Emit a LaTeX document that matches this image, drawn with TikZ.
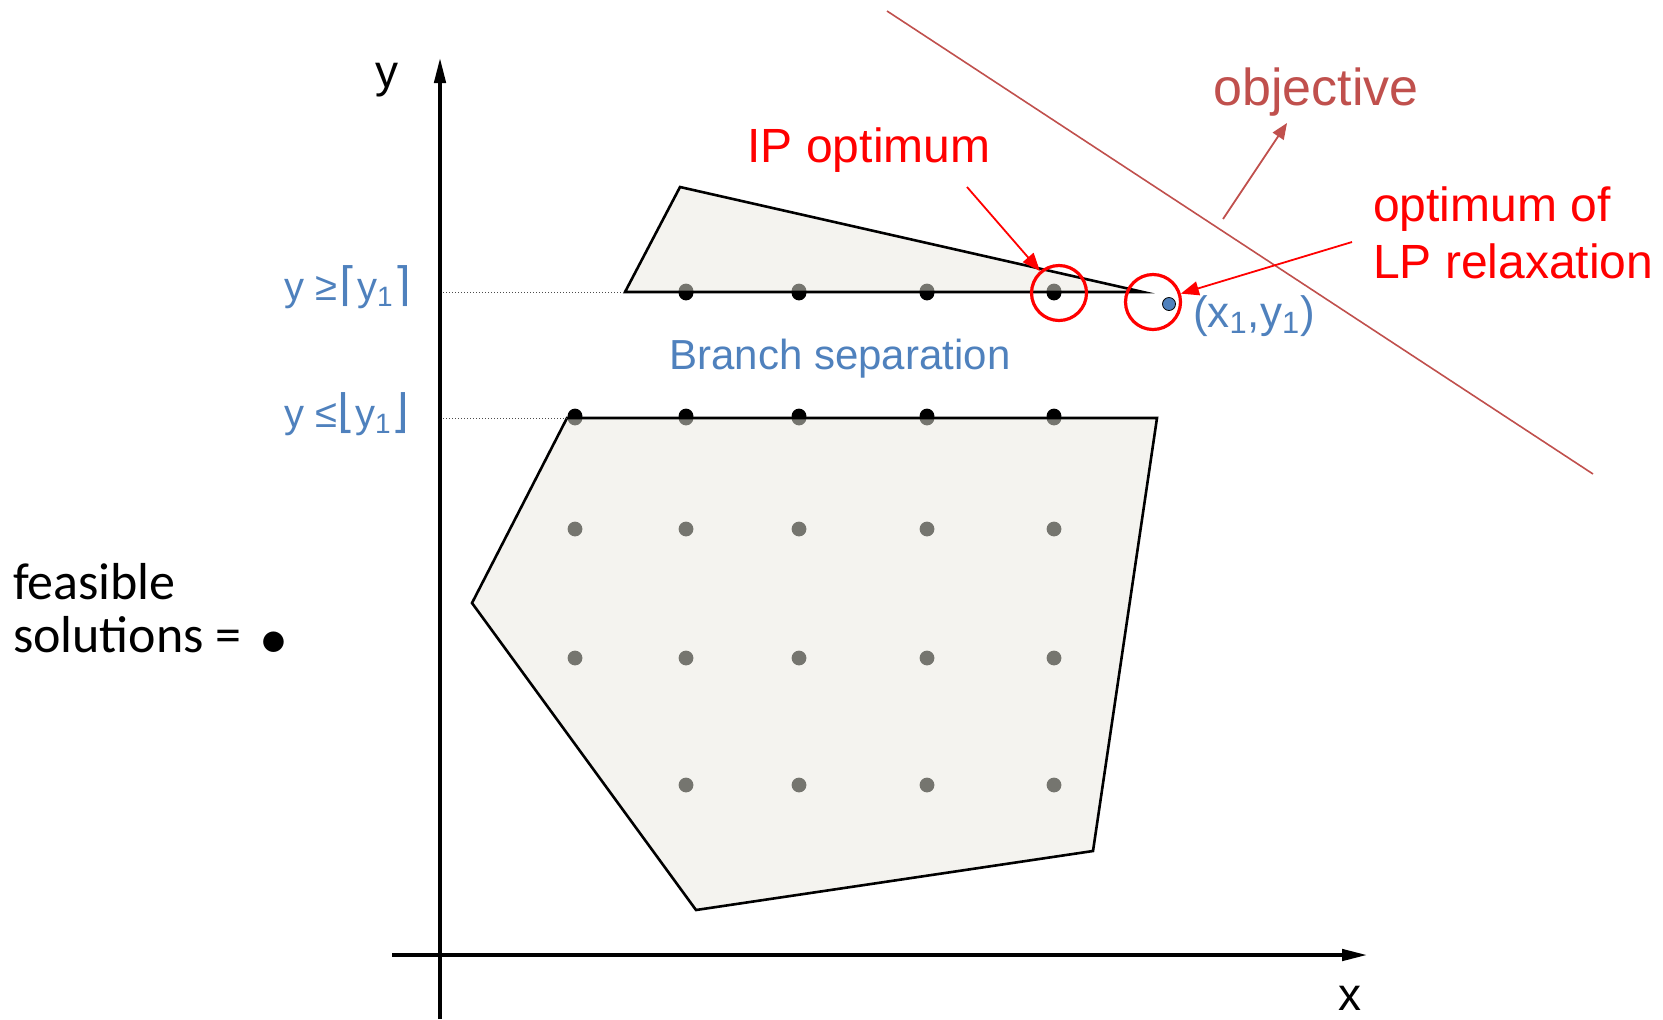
\documentclass[tikz,border=0pt]{standalone}
\usepackage{fontspec}
\setmainfont{Liberation Sans}
\newfontfamily\calibfont{Carlito}
\newfontfamily\djvfont{DejaVu Sans}
\usetikzlibrary{arrows.meta}
\definecolor{ofblue}{HTML}{4F81BD}
\definecolor{objred}{HTML}{C0504D}
\definecolor{polyfill}{HTML}{F4F3EF}
\definecolor{dotgray}{HTML}{75756F}
\tikzset{
  axisline/.style={line width=2.2pt,-{Triangle[length=13pt,width=5.5pt]}},
  polyline/.style={line width=1.3pt,line join=miter},
  guide/.style={densely dotted,line width=0.5pt,black!70},
  gdot/.style={circle,fill=dotgray,inner sep=0pt,minimum size=7.4pt},
  bdot/.style={circle,fill=black,inner sep=0pt,minimum size=7.4pt},
  redring/.style={circle,draw=red,line width=1.6pt,inner sep=0pt,minimum size=27.5pt},
  redarrow/.style={draw=red,line width=0.9pt,-{Triangle[length=9pt,width=7pt]}},
  objarrow/.style={draw=objred,line width=0.9pt,-{Triangle[length=8pt,width=6.5pt]}},
  lbl/.style={inner sep=0pt,outer sep=0pt},
}
\newcommand{\brk}[1]{{\djvfont\fontsize{23}{24}\selectfont #1}}
\begin{document}
\begin{tikzpicture}[x=0.5pt,y=-0.5pt]
\useasboundingbox (0,0) rectangle (1663,1019);

% objective line
\coordinate (o1) at (887,11);
\coordinate (o2) at (1593,474);
\draw[objred,line width=0.8pt] (o1) -- (o2);

% black dots on boundary rows (behind polygons)
\foreach \x/\n in {686/a,799/b,927/c,1054/d}
  \node[bdot] (tb\n) at (\x,293) {};
\foreach \x/\n in {575/a,686/b,799/c,927/d,1054/e}
  \node[bdot] (lb\n) at (\x,416) {};

% upper triangle
\coordinate (t1) at (680,187);
\coordinate (t2) at (625,292);
\coordinate (t3) at (1143,292);
\fill[polyfill] (t1) -- (t2) -- (t3) -- cycle;
% lower polygon
\coordinate (p1) at (567,418);
\coordinate (p2) at (1157,418);
\coordinate (p3) at (1093,851);
\coordinate (p4) at (696,910);
\coordinate (p5) at (472,603);
\fill[polyfill] (p1) -- (p2) -- (p3) -- (p4) -- (p5) -- cycle;

% gray halves of boundary dots
\begin{scope}
  \clip (t1) -- (t2) -- (t3) -- cycle;
  \foreach \x/\n in {686/a,799/b,927/c,1054/d}
    \node[gdot] (tg\n) at (\x,291) {};
\end{scope}
\begin{scope}
  \clip (p1) -- (p2) -- (p3) -- (p4) -- (p5) -- cycle;
  \foreach \x/\n in {575/a,686/b,799/c,927/d,1054/e}
    \node[gdot] (lg\n) at (\x,418) {};
\end{scope}

% interior gray dots
\foreach \x/\n in {575/a,686/b,799/c,927/d,1054/e} {
  \node[gdot] (r1\n) at (\x,529) {};
  \node[gdot] (r2\n) at (\x,658) {};
}
\foreach \x/\n in {686/b,799/c,927/d,1054/e}
  \node[gdot] (r3\n) at (\x,785) {};

% outlines
\draw[polyline] (t1) -- (t2) -- (t3) -- cycle;
\draw[polyline] (p1) -- (p2) -- (p3) -- (p4) -- (p5) -- cycle;

% guides
\coordinate (g1) at (443,292);
\coordinate (g2) at (443,418);
\draw[guide] (g1) -- (t2);
\draw[guide] (g2) -- (p1);

% axes
\coordinate (ybot) at (440,1019);
\coordinate (ytop) at (440,57);
\coordinate (xleft) at (392,955);
\coordinate (xright) at (1368,955);
\draw[axisline] (ybot) -- (ytop);
\draw[axisline] (xleft) -- (xright);
\node[lbl,anchor=base,font=\fontsize{23}{27}\selectfont] (ylab) at (387,87) {y};
\node[lbl,anchor=base,font=\fontsize{23}{27}\selectfont] (xlab) at (1350,1010) {x};

% branch labels
\node[lbl,anchor=base west,text=ofblue,font=\fontsize{20}{24}\selectfont] (geq) at (284,300)
  {y ≥\hspace{0.05em}\brk{⌈}y\textsubscript{1}\brk{⌉}};
\node[lbl,anchor=base west,text=ofblue,font=\fontsize{20}{24}\selectfont] (leq) at (284,427)
  {y ≤\brk{⌊}y\textsubscript{1}\brk{⌋}};
\node[lbl,anchor=base,text=ofblue,font=\fontsize{21}{25}\selectfont] (branch) at (840,369)
  {Branch separation};

% optimum markers
\node[redring] (ipc) at (1059,293) {};
\node[redring] (lpc) at (1153,302) {};
\node[circle,fill=ofblue,draw=black,line width=0.4pt,inner sep=0pt,minimum size=6.5pt] (lpdot) at (1169,304) {};
\node[lbl,anchor=base west,text=ofblue,font=\fontsize{22}{26}\selectfont] (xy) at (1193,327)
  {(x\textsubscript{1},y\textsubscript{1})};

% IP optimum
\node[lbl,anchor=base,text=red,font=\fontsize{24}{28}\selectfont] (iplab) at (869,162) {IP optimum};
\coordinate (ipa) at (967,187);
\draw[redarrow] (ipa) -- (ipc);

% LP relaxation
\node[lbl,anchor=base west,text=red,align=left,font=\fontsize{24}{28.5}\selectfont] (lplab) at (1373,278)
  {optimum of\\LP relaxation};
\coordinate (lpa) at (1352,242);
\draw[redarrow] (lpa) -- (lpc);

% objective
\node[lbl,anchor=base,text=objred,font=\fontsize{26}{30}\selectfont] (objlab) at (1316,105) {objective};
\coordinate (oa) at (1223,219);
\coordinate (ob) at (1287,123);
\draw[objarrow] (oa) -- (ob);

% feasible solutions
\node[lbl,anchor=base west,align=left,font=\calibfont\fontsize{26}{26.5}\selectfont] (feas) at (13,652)
  {feasible\\solutions =\hspace{0.12em} {\fontsize{29}{26}\selectfont\raisebox{-3pt}{•}}};
\end{tikzpicture}
\end{document}
